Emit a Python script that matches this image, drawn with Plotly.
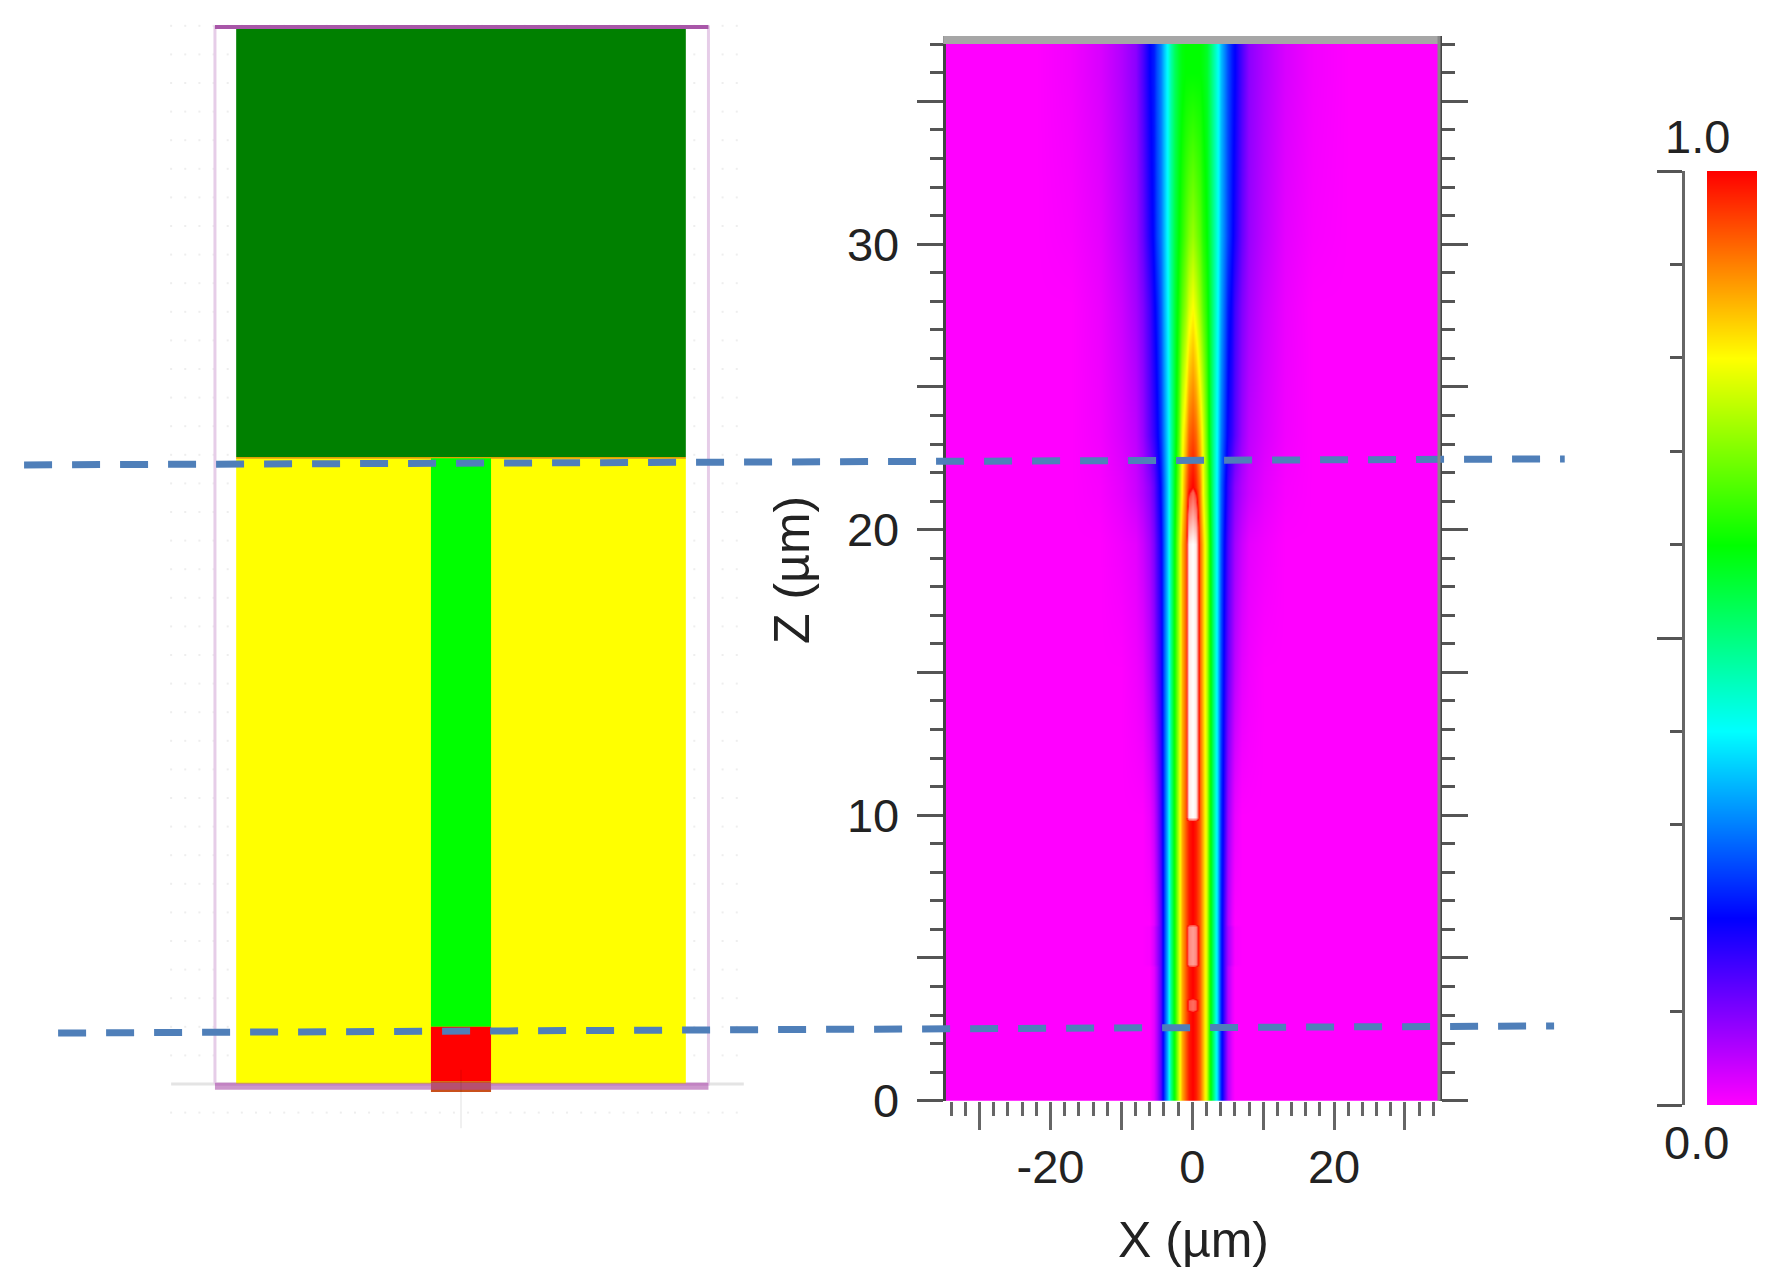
import plotly.graph_objects as go

W, H = 1779, 1285

# schematic layers: x in um, z in um, drawn in this order
layer_x0 = [-31.8, -31.8, -31.8, -4.25, -4.25, -4.25]
layer_x1 = [31.8, 31.8, 31.8, 4.25, 4.25, 4.25]
layer_z0 = [21.92, 0.0, 21.86, 2.0, 0.1, -0.28]
layer_z1 = [36.96, 21.88, 21.92, 21.88, 2.0, 0.1]
layer_color = ['#008000', '#ffff00', '#e0a000', '#00ff00', '#ff0000', '#c9501c']

# outline of the schematic box
box_x = [-34.8, -34.8, 35, 35, -34.8]
box_z = [0, 36.96, 36.96, 0, 0]
top_edge_x = [-34.8, 35]
top_edge_z = [36.96, 36.96]
bottom_edge_x = [-34.8, 35]
bottom_edge_z = [-0.08, -0.08]
ground_x = [-41, 40]
ground_z = [0, 0]
center_x = [0, 0]
center_z = [0.5, -1.55]
dot_x = [-41, -39, -37, -35, -33, -31, -29, -27, -25, -23, -21, -19, -17, -15, -13, -11, -9, -7, -5, -3, -1,
         1, 3, 5, 7, 9, 11, 13, 15, 17, 19, 21, 23, 25, 27, 29, 31, 33, 35, 37, 39]
dot_z = [-1, 1, 2, 3, 4, 5, 6, 7, 8, 9, 10, 11, 12, 13, 14, 15, 16, 17, 18, 19, 20, 21, 22, 23, 24, 25,
         26, 27, 28, 29, 30, 31, 32, 33, 34, 35, 36, 37, 38]

# field map, one half profile per row, the other side is the mirror of it
offset = [0, 0.5, 1, 1.5, 2, 2.5, 3, 3.5, 4, 4.5, 5, 5.5, 6, 7, 8, 10, 13, 17, 22, 35]
core_low = [1.00, .98, .93, .86, .76, .62, .49, .35, .23, .13, .06, .02, 0, 0, 0, 0, 0, 0, 0, 0]
core_patch = [1.10, 1.08, .93, .86, .76, .62, .49, .35, .23, .13, .07, .03, .005, 0, 0, 0, 0, 0, 0, 0]
core_faint = [1.05, 1.03, .93, .86, .76, .62, .49, .35, .23, .13, .06, .02, 0, 0, 0, 0, 0, 0, 0, 0]
row_z10a = [1.00, .98, .93, .86, .76, .62, .49, .36, .24, .15, .08, .04, .015, 0, 0, 0, 0, 0, 0, 0]
row_z10b = [1.20, 1.18, .93, .86, .76, .62, .49, .36, .24, .15, .08, .04, .015, 0, 0, 0, 0, 0, 0, 0]
row_z15 = [1.20, 1.18, .93, .85, .74, .62, .49, .36, .26, .17, .12, .08, .05, .02, .01, 0, 0, 0, 0, 0]
row_z19 = [1.20, 1.18, .93, .85, .74, .61, .48, .37, .27, .19, .14, .10, .07, .04, .02, .01, 0, 0, 0, 0]
core_end = [1.04, 1.00, .90, .80, .70, .59, .47, .37, .28, .21, .16, .12, .09, .06, .04, .02, .005, 0, 0, 0]
row_z21 = [1.00, .97, .90, .80, .70, .59, .47, .37, .28, .21, .16, .12, .09, .06, .04, .02, .005, 0, 0, 0]
row_z23 = [.94, .92, .85, .78, .67, .57, .47, .38, .30, .24, .19, .16, .13, .08, .05, .03, .01, 0, 0, 0]
row_z28 = [.80, .77, .72, .67, .62, .56, .48, .40, .33, .27, .22, .19, .15, .10, .07, .04, .015, 0, 0, 0]
row_z30 = [.72, .70, .67, .63, .60, .55, .48, .41, .34, .29, .25, .21, .18, .12, .08, .05, .02, .005, 0, 0]
row_z36 = [.60, .60, .60, .59, .57, .53, .47, .41, .35, .30, .26, .22, .20, .14, .09, .06, .03, .01, 0, 0]

field_z = [0, 3.1, 3.2, 3.5, 3.6, 4.7, 4.8, 6.1, 6.2, 9.8, 9.95, 15, 19.5, 21.3, 21.5, 23.3, 27.8, 30.3, 36, 37.3]
field_rows = [core_low, core_low, core_faint, core_faint, core_low, core_low, core_patch, core_patch, core_low,
              row_z10a, row_z10b, row_z15, row_z19, core_end, row_z21, row_z23, row_z28, row_z30, row_z36, row_z36]

# colour scale, values above 1 wash out to white
scale_max = 1.2
scale_values = [0, 0.2, 0.4, 0.6, 0.8, 1.0, 1.02, 1.2]
scale_colors = ['#ff00ff', '#0000ff', '#00ffff', '#00ff00', '#ffff00', '#ff0000', '#ff5040', '#ffffff']
bar_levels = [0, 0.1, 0.2, 0.3, 0.4, 0.5, 0.6, 0.7, 0.8, 0.9, 1.0]

# dashed guides, in the units of the field map axes
guide_top_x = [-164.8, 52.5]
guide_top_z = [22.27, 22.48]
guide_bottom_x = [-160, 51]
guide_bottom_z = [2.37, 2.62]

x_ticks = [-30, -20, -10, 0, 10, 20, 30]
x_labels = ['', '-20', '', '0', '', '20', '']
z_ticks = [0, 5, 10, 15, 20, 25, 30, 35]
z_labels = ['0', '', '10', '', '20', '', '30', '']


def px_x(a, b):
    return [a / W, b / W]


def px_y(top, bottom):
    return [1 - bottom / H, 1 - top / H]


FONT = dict(family='Liberation Sans, Arial, sans-serif', size=47, color='#222222')
TITLE_FONT = dict(family='Liberation Sans, Arial, sans-serif', size=50, color='#222222')
colorscale = [[v / scale_max, c] for v, c in zip(scale_values, scale_colors)]

fig = go.Figure()

# left panel
fig.add_trace(go.Scatter(x=[x for x in dot_x for z in dot_z], y=[z for x in dot_x for z in dot_z], mode='markers',
                         marker=dict(symbol='square', size=2, color='#eeeeee')))
fig.add_trace(go.Scatter(x=ground_x, y=ground_z, mode='lines', line=dict(color='#e4e4e4', width=3)))
fig.add_trace(go.Scatter(x=box_x, y=box_z, mode='lines', line=dict(color='#e6cde8', width=3)))
for x0, x1, z0, z1, color in zip(layer_x0, layer_x1, layer_z0, layer_z1, layer_color):
    fig.add_trace(go.Scatter(x=[x0, x1, x1, x0, x0], y=[z0, z0, z1, z1, z0], mode='lines', fill='toself',
                             fillcolor=color, line=dict(width=0)))
fig.add_trace(go.Scatter(x=top_edge_x, y=top_edge_z, mode='lines', line=dict(color='#a856a8', width=4)))
fig.add_trace(go.Scatter(x=bottom_edge_x, y=bottom_edge_z, mode='lines', line=dict(color='rgba(170,80,170,0.6)', width=7)))
fig.add_trace(go.Scatter(x=center_x, y=center_z, mode='lines', line=dict(color='rgba(0,0,0,0.06)', width=2)))

# right panel
fig.add_trace(go.Heatmap(x=[-d for d in offset[:0:-1]] + offset, y=field_z,
                         z=[row[:0:-1] + row for row in field_rows],
                         zmin=0, zmax=scale_max, colorscale=colorscale, zsmooth='best', showscale=False,
                         xaxis='x2', yaxis='y2'))

# colour bar
fig.add_trace(go.Heatmap(x=[0, 1], y=bar_levels, z=[[v, v] for v in bar_levels], zmin=0, zmax=scale_max,
                         colorscale=colorscale, zsmooth='best', showscale=False, xaxis='x3', yaxis='y3'))

# guides run over both panels, so they sit on axes that cover the whole page
for gx, gz in [(guide_top_x, guide_top_z), (guide_bottom_x, guide_bottom_z)]:
    fig.add_trace(go.Scatter(x=gx, y=gz, mode='lines', xaxis='x4', yaxis='y4',
                             line=dict(color='#4f7fb9', width=7, dash='28px,20px')))

fig.update_layout(
    width=W, height=H, margin=dict(l=0, r=0, t=0, b=0), paper_bgcolor='white', plot_bgcolor='rgba(0,0,0,0)',
    showlegend=False, font=FONT,
    xaxis=dict(domain=px_x(160, 760), range=[-301 / 7.07, 299 / 7.07], visible=False),
    yaxis=dict(domain=px_y(0, H), range=[(1084 - H) / 28.6, 1084 / 28.6], visible=False),
    xaxis2=dict(domain=px_x(945.6, 1439), range=[-34.8, 34.8], anchor='y2', showgrid=False, zeroline=False,
                showline=False, ticks='outside', ticklen=28, tickwidth=3, tickcolor='#666666',
                tickvals=x_ticks, ticktext=x_labels, ticklabelstandoff=-3, automargin=False,
                minor=dict(dtick=2, tick0=0, ticks='outside', ticklen=14, tickwidth=3, tickcolor='#666666', showgrid=False)),
    yaxis2=dict(domain=px_y(36, 1100.7), range=[0, 37.29], anchor='x2', showgrid=False, zeroline=False,
                showline=True, linecolor='#444444', linewidth=3, mirror='ticks',
                ticks='outside', ticklen=26, tickwidth=3, tickcolor='#555555',
                tickvals=z_ticks, ticktext=z_labels, ticklabelstandoff=8, automargin=False,
                minor=dict(dtick=1, tick0=0, ticks='outside', ticklen=13, tickwidth=3, tickcolor='#555555', showgrid=False)),
    xaxis3=dict(domain=px_x(1707, 1757), range=[0, 1], anchor='y3', visible=False),
    yaxis3=dict(domain=px_y(171, 1105), range=[0, 1], anchor='free', position=1683 / W, side='left',
                showgrid=False, zeroline=False, showline=True, linecolor='#666666', linewidth=3,
                ticks='outside', ticklen=25, tickwidth=3, tickcolor='#555555',
                tickvals=[0, 0.5, 1], showticklabels=False, automargin=False,
                minor=dict(dtick=0.1, tick0=0, ticks='outside', ticklen=12, tickwidth=3, tickcolor='#555555', showgrid=False)),
    xaxis4=dict(domain=[0, 1], range=[-1192.5 / 7.09, (W - 1192.5) / 7.09], anchor='y4', visible=False),
    yaxis4=dict(domain=[0, 1], range=[(1100.7 - H) / 28.55, 1100.7 / 28.55], anchor='x4', visible=False),
    shapes=[
        dict(type='rect', xref='x2 domain', yref='paper', x0=-0.005, x1=1.0, y0=1 - 44 / H, y1=1 - 36 / H,
             fillcolor='#a6a6a6', line_width=0),
        dict(type='line', xref='x2 domain', yref='y2 domain', x0=1, x1=1, y0=0, y1=1,
             line=dict(color='#888888', width=3)),
    ],
    annotations=[
        dict(text='1.0', xref='paper', yref='paper', x=1697 / W, y=1 - 137 / H, showarrow=False, font=FONT,
             xanchor='center', yanchor='middle'),
        dict(text='0.0', xref='paper', yref='paper', x=1696 / W, y=1 - 1142 / H, showarrow=False, font=FONT,
             xanchor='center', yanchor='middle'),
        dict(text='X (µm)', xref='paper', yref='paper', x=1193 / W, y=1 - 1240 / H, showarrow=False, font=TITLE_FONT,
             xanchor='center', yanchor='middle'),
        dict(text='Z (µm)', xref='paper', yref='paper', x=792 / W, y=1 - 570 / H, showarrow=False, font=TITLE_FONT,
             xanchor='center', yanchor='middle', textangle=-90),
    ],
)

fig.write_html("out.html", config={'displayModeBar': False}, post_script="document.body.style.margin='0';")
